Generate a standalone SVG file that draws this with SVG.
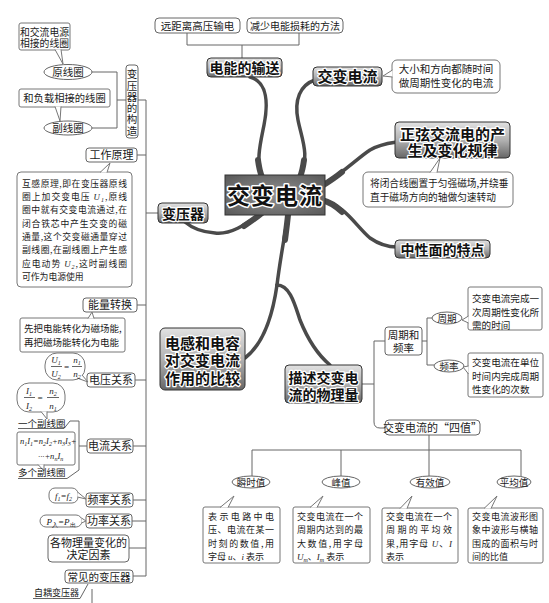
<svg xmlns="http://www.w3.org/2000/svg" width="549" height="603" viewBox="0 0 549 603">
<defs>
<linearGradient id="ng" x1="0" y1="0" x2="0" y2="1">
<stop offset="0" stop-color="#e2e2e2"/><stop offset="0.5" stop-color="#b2b2b2"/><stop offset="1" stop-color="#666"/>
</linearGradient>
<radialGradient id="cg" cx="0.5" cy="0.5" r="0.75">
<stop offset="0" stop-color="#909090"/><stop offset="1" stop-color="#555"/>
</radialGradient>
</defs>
<style>
text{font-family:"Noto Sans CJK SC","Noto Sans",sans-serif;fill:#1a1a1a}
.m{text-anchor:middle}
.node{fill:url(#ng);stroke:#333;stroke-width:1}
.ht{font-weight:bold;stroke:#fff;stroke-width:2.5;paint-order:stroke;stroke-linejoin:round;fill:#111}
.box{fill:#fff;stroke:#666;stroke-width:1}
.co{fill:#fff;stroke:#777;stroke-width:1}
.ln{fill:none;stroke:#666;stroke-width:1}
.br{fill:none;stroke:#4a4a4a;stroke-width:3.5;stroke-linecap:round}
.bt{fill:none;stroke:#4a4a4a;stroke-width:6;stroke-linecap:round}
.i{font-family:"Liberation Serif",serif;font-style:italic}
.s{font-size:6px}
</style>
<rect width="549" height="603" fill="#fff"/>

<g id="connectors">
<path class="br" d="M250,77 C268,82 268,105 264,125 C260,145 256,160 262,177"/>
<path class="br" d="M315,80 C300,85 294,100 298,120 C302,140 310,155 300,177"/>
<path class="br" d="M322,185 C345,172 355,160 370,150 C380,144 390,143 397,142"/>
<path class="br" d="M322,200 C345,205 355,225 370,238 C380,245 390,247 397,247"/>
<path class="br" d="M262,213 C245,225 230,235 215,233 C200,232 192,228 185,222"/>
<path class="br" d="M288,215 C284,240 280,260 277,285"/>
<path class="br" d="M277,285 C272,320 262,345 245,358"/>
<path class="br" d="M277,285 C290,285 295,305 300,320 C308,340 318,355 330,365"/>
<path class="bt" d="M258,160 C259,168 260,172 262,177 M304,160 C303,168 302,172 300,177 M322,186 C330,181 336,177 342,172 M322,200 C330,202 336,206 342,212 M262,213 C256,218 250,222 244,226 M288,215 C287,225 286,232 285,240"/>
<path class="ln" d="M187,33 V45 H299 V33 M242,45 V58"/>
<path class="ln" d="M92,72 H117 V128 H92 M117,100 H126"/>
<path class="ln" d="M138,100 H146 V576 M137,155 H146 M146,213 H158 M137,305 H146 M135,380 H146 M133,446 H146 M133,500 H146 M132,521 H146 M129,548 H146 M133,576 H146"/>
<path class="ln" d="M18,428.5 H64 L70,421 H79 V470 L67,478.5 H18 M79,446 H87"/>
<path class="ln" d="M33,598.5 H80 L88,584 M92,589 V603"/>
<path class="ln" d="M362,384 H374 M385,341 H374 V422 Q374,428 380,428 H385"/>
<path class="ln" d="M422,341 H427 M432,318 H427 V365 H434"/>
<path class="ln" d="M429,435 V477 M252,477 V450 H521 V477 M341,450 V477"/>
</g>

<g id="n-center">
<rect x="225" y="175" width="100" height="40" fill="url(#cg)" stroke="#333"/>
<text class="m ht" x="275" y="203.5" style="font-size:23px;stroke-width:3" letter-spacing="1">交变电流</text>
</g>

<g id="n-shusong">
<rect class="node" x="207" y="58" width="75" height="19" rx="4"/>
<text class="m ht" x="244.5" y="73" font-size="14">电能的输送</text>
</g>
<g id="n-yuanju"><rect class="box" x="155" y="18" width="85" height="15" rx="4"/><text class="m" x="197.5" y="29.5" font-size="10.5">远距离高压输电</text></g>
<g id="n-jianshao"><rect class="box" x="247" y="18" width="96" height="15" rx="4"/><text class="m" x="295" y="29.5" font-size="10">减少电能损耗的方法</text></g>

<g id="n-jiaobian">
<rect class="node" x="313" y="67" width="69" height="19" rx="4"/>
<text class="m ht" x="347.5" y="82" font-size="15">交变电流</text>
</g>
<g id="c-jiaobian">
<rect class="co" x="392" y="60" width="108" height="33" rx="5"/>
<path class="co" d="M392.5,70 L383,76 L392.5,77"/>
<text class="m" font-size="10.5"><tspan x="446" y="73">大小和方向都随时间</tspan><tspan x="446" y="87">做周期性变化的电流</tspan></text>
</g>

<g id="n-zhengxian">
<rect class="node" x="395" y="122" width="115" height="36" rx="4"/>
<text class="m ht" font-size="15"><tspan x="452.5" y="140">正弦交流电的产</tspan><tspan x="452.5" y="156">生及变化规律</tspan></text>
</g>
<g id="c-zhengxian">
<rect class="co" x="363" y="172" width="150" height="35" rx="5"/>
<path class="co" d="M430,172.5 L440,158 L437,172.5"/>
<text font-size="9.7"><tspan x="370" y="187">将闭合线圈置于匀强磁场,并绕垂</tspan><tspan x="370" y="201">直于磁场方向的轴做匀速转动</tspan></text>
</g>

<g id="n-zhongxing">
<rect class="node" x="395" y="240" width="95" height="18" rx="4"/>
<text class="m ht" x="442.5" y="254.5" font-size="14">中性面的特点</text>
</g>

<g id="n-bianyaqi">
<rect class="node" x="158" y="203" width="50" height="20" rx="4"/>
<text class="m ht" x="183" y="218.5" font-size="14">变压器</text>
</g>

<g id="n-diangan">
<rect class="node" x="160" y="328" width="85" height="62" rx="5"/>
<text class="m ht" font-size="15"><tspan x="202.5" y="348.7">电感和电容</tspan><tspan x="202.5" y="365.7">对交变电流</tspan><tspan x="202.5" y="383.7">作用的比较</tspan></text>
</g>

<g id="n-miaoshu">
<rect class="node" x="285" y="365" width="77" height="38" rx="4"/>
<text class="m ht" font-size="14"><tspan x="323.5" y="382.5">描述交变电</tspan><tspan x="323.5" y="399.5">流的物理量</tspan></text>
</g>

<g id="n-zhouqipinlv">
<rect class="box" x="385" y="327" width="37" height="28" rx="3"/>
<text class="m" font-size="10.5"><tspan x="403.5" y="339">周期和</tspan><tspan x="403.5" y="352">频率</tspan></text>
</g>
<g id="n-zhouqi"><ellipse class="box" cx="447" cy="318" rx="15" ry="6"/><text class="m" x="447" y="321.5" font-size="9.5">周期</text></g>
<g id="n-pinlv"><ellipse class="box" cx="449" cy="366" rx="15" ry="6"/><text class="m" x="449" y="369.5" font-size="9.5">频率</text></g>
<g id="c-zhouqi">
<rect class="co" x="468" y="287" width="74" height="43" rx="2"/>
<path class="co" d="M468.5,316 L462,320 L468.5,323"/>
<text font-size="9.6"><tspan x="472" y="302">交变电流完成一</tspan><tspan x="472" y="316">次周期性变化所</tspan><tspan x="472" y="329">需的时间</tspan></text>
</g>
<g id="c-pinlv">
<rect class="co" x="468" y="353" width="75" height="44" rx="2"/>
<path class="co" d="M468.5,366 L463,367 L468.5,374"/>
<text font-size="9.6"><tspan x="472" y="366">交变电流在单位</tspan><tspan x="472" y="379.5">时间内完成周期</tspan><tspan x="472" y="393">性变化的次数</tspan></text>
</g>

<g id="n-sizhi">
<rect class="box" x="385" y="420" width="95" height="15" rx="4"/>
<text class="m" x="432.5" y="431.5" font-size="11">交变电流的“四值”</text>
</g>
<g id="n-shunshi"><ellipse class="box" cx="251" cy="482" rx="19" ry="6"/><text class="m" x="251" y="485.5" font-size="9.5">瞬时值</text></g>
<g id="n-fengzhi"><ellipse class="box" cx="341" cy="482" rx="19" ry="6"/><text class="m" x="341" y="485.5" font-size="9.5">峰值</text></g>
<g id="n-youxiao"><ellipse class="box" cx="430" cy="482" rx="20" ry="6"/><text class="m" x="430" y="485.5" font-size="9.5">有效值</text></g>
<g id="n-pingjun"><ellipse class="box" cx="514" cy="482" rx="17" ry="6"/><text class="m" x="514" y="485.5" font-size="9.5">平均值</text></g>

<g id="c-shunshi" font-size="9">
<rect class="co" x="203" y="507" width="77" height="56" rx="2"/>
<path class="co" d="M220,507.5 L234,496 L228,507.5"/>
<text x="208" y="520.3" textLength="66" lengthAdjust="spacing">表示电路中电</text>
<text x="208" y="533.4" textLength="66" lengthAdjust="spacing">压、电流在某一</text>
<text x="208" y="546.5" textLength="66" lengthAdjust="spacing">时刻的数值,用</text>
<text x="208" y="559.6">字母 <tspan class="i">u</tspan>、<tspan class="i">i</tspan> 表示</text>
</g>
<g id="c-fengzhi" font-size="9">
<rect class="co" x="293" y="507" width="77" height="56" rx="2"/>
<path class="co" d="M310,507.5 L323,496 L317,507.5"/>
<text x="297" y="520.3" textLength="66" lengthAdjust="spacing">交变电流在一个</text>
<text x="297" y="533.4" textLength="66" lengthAdjust="spacing">周期内达到的最</text>
<text x="297" y="546.5" textLength="66" lengthAdjust="spacing">大数值,用字母</text>
<text x="297" y="559.6"><tspan class="i">U</tspan><tspan class="i s" dy="2">m</tspan><tspan dy="-2">、</tspan><tspan class="i">I</tspan><tspan class="i s" dy="2">m</tspan><tspan dy="-2"> 表示</tspan></text>
</g>
<g id="c-youxiao" font-size="9">
<rect class="co" x="382" y="508" width="76" height="55" rx="2"/>
<path class="co" d="M400,508.5 L412,496 L407,508.5"/>
<text x="386" y="520.3" textLength="66" lengthAdjust="spacing">交变电流在一个</text>
<text x="386" y="533.4" textLength="66" lengthAdjust="spacing">周期的平均效</text>
<text x="386" y="546.5" textLength="66" lengthAdjust="spacing">果,用字母 <tspan class="i">U</tspan>、<tspan class="i">I</tspan></text>
<text x="386" y="559.6">表示</text>
</g>
<g id="c-pingjun" font-size="9">
<rect class="co" x="468" y="508" width="75" height="55" rx="2"/>
<path class="co" d="M484,508.5 L497,496 L491,508.5"/>
<text x="472" y="520.3" textLength="66" lengthAdjust="spacing">交变电流波形图</text>
<text x="472" y="533.4" textLength="66" lengthAdjust="spacing">象中波形与横轴</text>
<text x="472" y="546.5" textLength="66" lengthAdjust="spacing">围成的面积与时</text>
<text x="472" y="559.6">间的比值</text>
</g>

<g id="n-gouzao">
<rect class="box" x="126" y="65" width="12" height="73" rx="3"/>
<text x="132" y="69" font-size="10.5" letter-spacing="0.8" style="writing-mode:vertical-rl">变压器的构造</text>
</g>
<g id="n-yuanxianquan"><ellipse class="box" cx="68" cy="72" rx="24" ry="7.5"/><text class="m" x="68" y="76" font-size="10.5">原线圈</text></g>
<g id="n-fuxianquan"><ellipse class="box" cx="68" cy="128" rx="24" ry="7"/><text class="m" x="68" y="132" font-size="10.5">副线圈</text></g>
<g id="c-yuan">
<rect class="co" x="19" y="23" width="51" height="27" rx="2"/>
<path class="co" d="M55,49.5 L63,64 L61,49.5"/>
<text class="m" font-size="9.8"><tspan x="44.5" y="36">和交流电源</tspan><tspan x="44.5" y="47">相接的线圈</tspan></text>
</g>
<g id="c-fu">
<rect class="co" x="19" y="89" width="91" height="18" rx="2"/>
<path class="co" d="M55,106.5 L60,121 L61,106.5"/>
<text class="m" x="64.5" y="102" font-size="10.3">和负载相接的线圈</text>
</g>

<g id="n-gongzuo"><rect class="box" x="86" y="148" width="51" height="14" rx="3"/><text class="m" x="111.5" y="159" font-size="11">工作原理</text></g>
<g id="c-gongzuo">
<rect class="co" x="17" y="172" width="115" height="115" rx="4"/>
<path class="co" d="M100,172.5 L110,163 L107,172.5"/>
<g font-size="8.8">
<text x="22" y="186.8" textLength="105" lengthAdjust="spacing">互感原理,即在变压器原线</text>
<text x="22" y="200.1" textLength="105" lengthAdjust="spacing">圈上加交变电压 <tspan class="i">U</tspan><tspan class="i s" dy="2">1</tspan><tspan dy="-2">,原线</tspan></text>
<text x="22" y="213.4" textLength="105" lengthAdjust="spacing">圈中就有交变电流通过,在</text>
<text x="22" y="226.7" textLength="105" lengthAdjust="spacing">闭合铁芯中产生交变的磁</text>
<text x="22" y="240" textLength="105" lengthAdjust="spacing">通量,这个交变磁通量穿过</text>
<text x="22" y="253.3" textLength="105" lengthAdjust="spacing">副线圈,在副线圈上产生感</text>
<text x="22" y="266.6" textLength="105" lengthAdjust="spacing">应电动势 <tspan class="i">U</tspan><tspan class="i s" dy="2">2</tspan><tspan dy="-2">,这时副线圈</tspan></text>
<text x="22" y="279.9">可作为电源使用</text>
</g>
</g>

<g id="n-nengliang"><rect class="box" x="83" y="298" width="54" height="14" rx="3"/><text class="m" x="110" y="309" font-size="11">能量转换</text></g>
<g id="c-nengliang">
<rect class="co" x="20" y="318" width="105" height="34" rx="2"/>
<path class="co" d="M88,318.5 L92,312 L94,318.5"/>
<text font-size="9.5"><tspan x="24" y="331.5">先把电能转化为磁场能,</tspan><tspan x="24" y="345.5">再把磁场能转化为电能</tspan></text>
</g>

<g id="n-dianya"><rect class="box" x="87" y="373" width="48" height="14" rx="3"/><text class="m" x="111" y="384" font-size="11">电压关系</text></g>
<g id="c-dianya">
<rect class="co" x="45" y="353" width="40" height="27" rx="12"/>
<path class="co" d="M77,378 L88,382 L82,375"/>
<text class="m i" font-size="9"><tspan x="56" y="363">U<tspan class="s" dy="2">1</tspan></tspan><tspan x="66.5" y="370">=</tspan><tspan x="77" y="363">n<tspan class="s" dy="2">1</tspan></tspan></text>
<text class="m i" font-size="9"><tspan x="56" y="377">U<tspan class="s" dy="2">2</tspan></tspan><tspan x="77" y="377">n<tspan class="s" dy="2">2</tspan></tspan></text>
<path class="ln" d="M51,366.5 H62 M72,366.5 H82"/>
</g>

<g id="c-dianliu1">
<rect class="co" x="17" y="383" width="48" height="29" rx="12"/>
<path class="co" d="M41,411.5 L47,419 L47,411.5"/>
<text class="m i" font-size="9"><tspan x="29" y="394">I<tspan class="s" dy="2">1</tspan></tspan><tspan x="40" y="401">=</tspan><tspan x="53" y="394">n<tspan class="s" dy="2">2</tspan></tspan></text>
<text class="m i" font-size="9"><tspan x="29" y="408.5">I<tspan class="s" dy="2">2</tspan></tspan><tspan x="53" y="408.5">n<tspan class="s" dy="2">1</tspan></tspan></text>
<path class="ln" d="M24,397.5 H35 M47,397.5 H59"/>
</g>
<g id="l-yige"><text x="18" y="426.5" font-size="9.5">一个副线圈</text></g>
<g id="c-dianliu2">
<rect class="co" x="17" y="432" width="58" height="33" rx="2"/>
<path class="co" d="M38,464.5 L44,471 L44,464.5"/>
<text class="i" x="20" y="444" font-size="8.5">n<tspan class="s" dy="2">1</tspan><tspan dy="-2">I</tspan><tspan class="s" dy="2">1</tspan><tspan dy="-2">=n</tspan><tspan class="s" dy="2">2</tspan><tspan dy="-2">I</tspan><tspan class="s" dy="2">2</tspan><tspan dy="-2">+n</tspan><tspan class="s" dy="2">3</tspan><tspan dy="-2">I</tspan><tspan class="s" dy="2">3</tspan><tspan dy="-2">+</tspan></text>
<text class="i" x="38" y="459" font-size="8.5">···+n<tspan class="s" dy="2">n</tspan><tspan dy="-2">I</tspan><tspan class="s" dy="2">n</tspan></text>
</g>
<g id="l-duoge"><text x="18" y="476" font-size="9.5">多个副线圈</text></g>
<g id="n-dianliu"><rect class="box" x="87" y="439" width="46" height="14" rx="3"/><text class="m" x="110" y="450" font-size="11">电流关系</text></g>

<g id="n-pinlvgx"><rect class="box" x="86" y="493" width="47" height="14" rx="3"/><text class="m" x="109.5" y="504" font-size="11">频率关系</text></g>
<g id="c-pinlvgx">
<rect class="co" x="49" y="488" width="29" height="15" rx="6"/>
<path class="co" d="M77.5,492 L86,499 L77.5,497"/>
<text class="m i" x="63.5" y="498.5" font-size="9">f<tspan class="s" dy="2">1</tspan><tspan dy="-2">=f</tspan><tspan class="s" dy="2">2</tspan></text>
</g>
<g id="n-gonglv"><rect class="box" x="86" y="514" width="46" height="14" rx="3"/><text class="m" x="109" y="525" font-size="11">功率关系</text></g>
<g id="c-gonglv">
<rect class="co" x="40" y="515" width="42" height="12" rx="6"/>
<path class="co" d="M81.5,518 L86,521 L81.5,523"/>
<text class="m i" x="61" y="524.5" font-size="9">P<tspan class="s" dy="2" font-style="normal">入</tspan><tspan dy="-2">=P</tspan><tspan class="s" dy="2" font-style="normal">出</tspan></text>
</g>
<g id="n-gewuli">
<rect class="box" x="48" y="535" width="81" height="27" rx="4"/>
<text class="m" font-size="11"><tspan x="88.5" y="546.5">各物理量变化的</tspan><tspan x="88.5" y="559">决定因素</tspan></text>
</g>
<g id="n-changjian"><rect class="box" x="65" y="570" width="68" height="13" rx="3"/><text class="m" x="99" y="580.5" font-size="10.5">常见的变压器</text></g>
<g id="l-zi"><text x="34" y="596" font-size="9">自耦变压器</text></g>
</svg>
